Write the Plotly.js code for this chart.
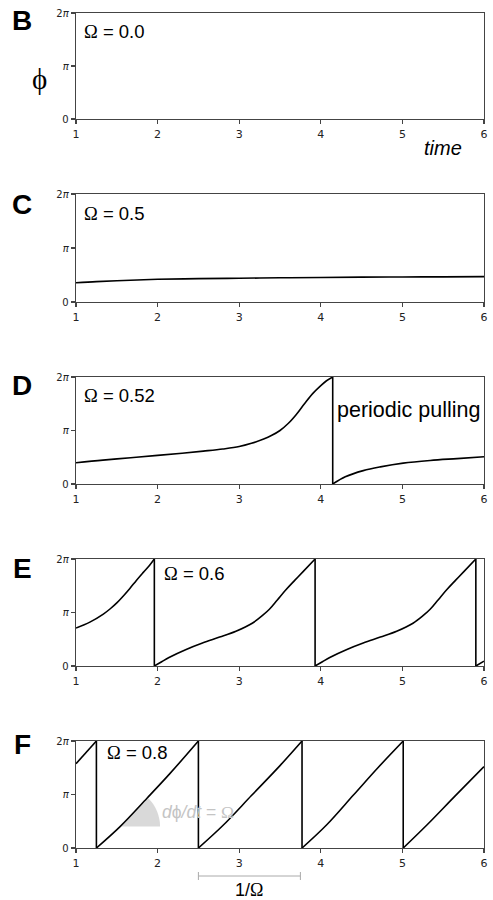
<!DOCTYPE html>
<html>
<head>
<meta charset="utf-8">
<script src="https://cdn.plot.ly/plotly-3.0.1.min.js"></script>
<style>html,body{margin:0;padding:0;background:#fff;}#chart{width:493px;height:900px;}</style>
</head>
<body>
<div id="chart"></div>
<script>
// ---- data (phase in units of pi, time); null separates branches at each 2pi -> 0 wrap ----
const xTicks = [1, 2, 3, 4, 5, 6];
const yTickVals = [0, 1, 2];
const yTickText = ['0', '<i>π</i>', '2<i>π</i>'];
const panelLetters = ['B', 'C', 'D', 'E', 'F'];
const omegaLabels = ['0.0', '0.5', '0.52', '0.6', '0.8'];

const tC = [1, 1.25, 1.5, 1.75, 2, 2.5, 3, 3.5, 4, 4.5, 5, 5.5, 6];
const phiC = [0.357, 0.378, 0.394, 0.408, 0.42, 0.432, 0.44, 0.448, 0.455, 0.46, 0.463, 0.466, 0.469];

const tD = [1, 1.33, 1.67, 2.0, 2.3, 2.56, 2.8, 3.0, 3.15, 3.3, 3.4, 3.5, 3.6, 3.7, 3.8, 3.9, 4.0, 4.07, 4.146, null,
            4.146, 4.3, 4.52, 4.73, 5.01, 5.34, 5.67, 6];
const phiD = [0.397, 0.447, 0.49, 0.535, 0.575, 0.615, 0.655, 0.70, 0.76, 0.84, 0.91, 1.00, 1.13, 1.30, 1.50, 1.69, 1.84, 1.93, 2.0, null,
              0, 0.135, 0.25, 0.32, 0.39, 0.44, 0.475, 0.509];
const jumpsD = [4.146];

const tE = [1, 1.17, 1.335, 1.42, 1.5, 1.58, 1.66, 1.74, 1.825, 1.90, 1.96, null,
            1.96, 2.05, 2.14, 2.35, 2.55, 2.76, 2.96, 3.16, 3.29, 3.37, 3.47, 3.57, 3.68, 3.78, 3.93, null,
            3.93, 4.02, 4.11, 4.32, 4.52, 4.73, 4.93, 5.13, 5.26, 5.34, 5.44, 5.54, 5.65, 5.75, 5.90, null,
            5.90, 6];
const phiE = [0.71, 0.82, 0.97, 1.07, 1.18, 1.31, 1.45, 1.60, 1.75, 1.88, 2.0, null,
              0, 0.08, 0.16, 0.31, 0.43, 0.54, 0.65, 0.80, 0.95, 1.06, 1.24, 1.42, 1.60, 1.76, 2.0, null,
              0, 0.08, 0.16, 0.31, 0.43, 0.54, 0.65, 0.80, 0.95, 1.06, 1.24, 1.42, 1.60, 1.76, 2.0, null,
              0, 0.09];
const jumpsE = [1.96, 3.93, 5.90];

const tF = [1, 1.25, null, 1.25, 1.54, 1.87, 2.15, 2.50, null, 2.50, 2.8, 3.15, 3.5, 3.77, null, 3.77, 4.07, 4.4, 4.7, 5.01, null, 5.01, 5.3, 5.65, 6];
const phiF = [1.575, 2.0, null, 0, 0.40, 0.93, 1.39, 2.0, null, 0, 0.42, 0.98, 1.54, 2.0, null, 0, 0.43, 0.99, 1.5, 2.0, null, 0, 0.43, 0.98, 1.52];
const jumpsF = [1.25, 2.50, 3.77, 5.01];

const periodBarF = [2.5, 3.75];      // 1/Omega span shown below panel F
const slopeMarkF = [1.54, 0.40];     // point on the F line where the slope wedge sits

// ---- layout helpers (pixel -> paper) ----
const W = 493, H = 900, L = 76, R = 9;
const PW = W - L - R;
const px = v => (v - L) / PW;
const py = v => 1 - v / H;

const panelPix = [[13, 119], [194, 302], [377, 484], [559, 666], [741, 848]];

const lineStyle = {color: '#000', width: 1.6, shape: 'spline', smoothing: 1};
const jumpStyle = {color: '#000', width: 1.6};
function jumpTrace(jumps, ax) {
  const x = [], y = [];
  jumps.forEach(j => { x.push(j, j, null); y.push(2, 0, null); });
  return {x, y, xaxis: 'x' + ax, yaxis: 'y' + ax, mode: 'lines', line: jumpStyle, connectgaps: false};
}
const data = [
  {x: [], y: [], xaxis: 'x', yaxis: 'y', mode: 'lines'},
  {x: tC, y: phiC, xaxis: 'x2', yaxis: 'y2', mode: 'lines', line: lineStyle},
  {x: tD, y: phiD, xaxis: 'x3', yaxis: 'y3', mode: 'lines', line: lineStyle, connectgaps: false},
  jumpTrace(jumpsD, 3),
  {x: tE, y: phiE, xaxis: 'x4', yaxis: 'y4', mode: 'lines', line: lineStyle, connectgaps: false},
  jumpTrace(jumpsE, 4),
  {x: tF, y: phiF, xaxis: 'x5', yaxis: 'y5', mode: 'lines', line: lineStyle, connectgaps: false},
  jumpTrace(jumpsF, 5)
];

const layout = {
  width: W, height: H,
  margin: {l: L, r: R, t: 0, b: 0},
  showlegend: false,
  paper_bgcolor: '#fff', plot_bgcolor: '#fff',
  font: {family: 'DejaVu Sans', color: '#222'},
  annotations: [], shapes: []
};

const serifO = '<span style="font-family:Liberation Serif">Ω</span>';
const omegaPos = [[82, 31], [82, 213], [82, 395], [162, 573], [105, 752]];
const letterPos = [[22, 21], [22, 205], [22, 385], [22, 568], [22, 744]];

for (let i = 0; i < 5; i++) {
  const n = i === 0 ? '' : String(i + 1);
  const [top, bot] = panelPix[i];
  layout['xaxis' + n] = {
    domain: [0, 1], range: [1, 6], anchor: 'y' + n,
    tickvals: xTicks, ticks: 'outside', ticklen: 4, tickwidth: 1.2, tickcolor: '#444',
    showline: true, mirror: true, linecolor: '#444', linewidth: 1.3,
    showgrid: false, zeroline: false, fixedrange: true,
    tickfont: {family: 'DejaVu Sans', size: 11, color: '#222'}
  };
  layout['yaxis' + n] = {
    domain: [py(bot), py(top)], range: [0, 2], anchor: 'x' + n,
    tickvals: yTickVals, ticktext: yTickText, ticks: 'outside', ticklen: 4, tickwidth: 1.2, tickcolor: '#444',
    showline: true, mirror: true, linecolor: '#444', linewidth: 1.3,
    showgrid: false, zeroline: false, fixedrange: true,
    tickfont: {family: 'DejaVu Sans', size: 10, color: '#222'}
  };
  layout.annotations.push({
    xref: 'paper', yref: 'paper', x: px(letterPos[i][0]), y: py(letterPos[i][1]),
    text: '<b>' + panelLetters[i] + '</b>', showarrow: false, xanchor: 'center', yanchor: 'middle',
    font: {family: 'Liberation Sans', size: 28, color: '#000'}
  });
  layout.annotations.push({
    xref: 'paper', yref: 'paper', x: px(omegaPos[i][0]), y: py(omegaPos[i][1]),
    text: serifO + ' = ' + omegaLabels[i], showarrow: false, xanchor: 'left', yanchor: 'middle',
    font: {family: 'Liberation Sans', size: 18.5, color: '#000'}
  });
}

// phi label and time label
layout.annotations.push({xref: 'paper', yref: 'paper', x: px(39), y: py(79), text: 'ϕ', showarrow: false,
  xanchor: 'center', yanchor: 'middle', font: {family: 'Liberation Serif', size: 29, color: '#000'}});
layout.annotations.push({xref: 'paper', yref: 'paper', x: px(443), y: py(148), text: '<i>time</i>', showarrow: false,
  xanchor: 'center', yanchor: 'middle', font: {family: 'Liberation Sans', size: 20, color: '#000'}});
// periodic pulling
layout.annotations.push({xref: 'paper', yref: 'paper', x: px(335), y: py(410), text: 'periodic pulling', showarrow: false,
  xanchor: 'left', yanchor: 'middle', font: {family: 'Liberation Sans', size: 21.5, color: '#000'}});
// slope text
layout.annotations.push({xref: 'paper', yref: 'paper', x: px(160), y: py(812), text: '<i>d</i>ϕ<i>/dt</i> = ' + serifO,
  showarrow: false, xanchor: 'left', yanchor: 'middle', font: {family: 'Liberation Sans', size: 17.5, color: '#c4c4c4'}});
// 1/Omega label
layout.annotations.push({xref: 'x5', yref: 'paper', x: (periodBarF[0] + periodBarF[1]) / 2, y: py(890), text: '1/' + serifO,
  showarrow: false, xanchor: 'center', yanchor: 'middle', font: {family: 'Liberation Sans', size: 18, color: '#000'}});

// slope wedge (pixel-sized sector anchored on the F line)
layout.shapes.push({type: 'path', xref: 'x5', yref: 'y5', xsizemode: 'pixel', ysizemode: 'pixel',
  xanchor: slopeMarkF[0], yanchor: slopeMarkF[1], layer: 'below',
  path: 'M0,0 L40,0 C40,10.6 35.8,20.8 28.3,28.3 Z', fillcolor: '#d9d9d9', line: {width: 0}});
// period bar
const barY = py(876), capH = 4 / H;
layout.shapes.push({type: 'line', xref: 'x5', yref: 'paper', x0: periodBarF[0], x1: periodBarF[1], y0: barY, y1: barY,
  line: {color: '#aaa', width: 1}});
layout.shapes.push({type: 'line', xref: 'x5', yref: 'paper', x0: periodBarF[0], x1: periodBarF[0], y0: barY - capH, y1: barY + capH,
  line: {color: '#aaa', width: 1}});
layout.shapes.push({type: 'line', xref: 'x5', yref: 'paper', x0: periodBarF[1], x1: periodBarF[1], y0: barY - capH, y1: barY + capH,
  line: {color: '#aaa', width: 1}});

Plotly.newPlot('chart', data, layout, {displayModeBar: false, staticPlot: true});
</script>
</body>
</html>
